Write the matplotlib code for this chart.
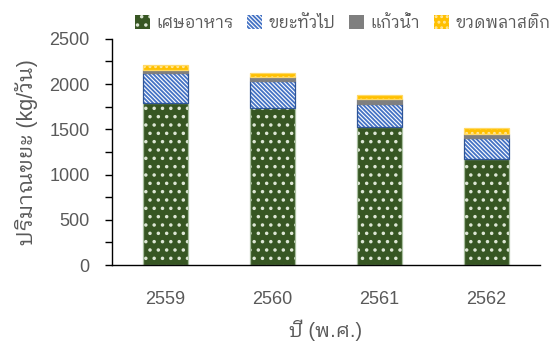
import matplotlib
matplotlib.use("Agg")
import matplotlib.pyplot as plt
from matplotlib.patches import Patch
import numpy as np

plt.rcParams['font.family'] = ['Liberation Sans', 'IBM Plex Sans Thai Looped', 'DejaVu Sans']

years = ['2559', '2560', '2561', '2562']
food = [1790, 1735, 1525, 1175]
general = [330, 300, 260, 225]
glass = [35, 40, 45, 45]
plastic = [55, 50, 55, 65]

names = ['เศษอาหาร', 'ขยะทั่วไป', 'แก้วน้ำ', 'ขวดพลาสติก']
faces = ['#375623', 'white', '#7F7F7F', '#FFC000']
hatch_cols = ['#DDE6D5', '#4472C4', '#7F7F7F', '#FFE699']
hatches = ['..', '\\' * 8, '', '...']
outlines = ['#A9BFA0', '#2F5597', '#7F7F7F', '#FFD966']

plt.rcParams['hatch.linewidth'] = 1.3

fig = plt.figure(figsize=(5.51, 3.47), dpi=100)
ax = fig.add_axes([0.203, 0.236, 0.777, 0.652])

x = np.arange(len(years))
w = 0.42
bottom = np.zeros(len(years))
for vals, fc, hc, h, oc in zip([food, general, glass, plastic], faces, hatch_cols, hatches, outlines):
    ax.bar(x, vals, w, bottom=bottom, color=fc, edgecolor=hc, hatch=h, linewidth=0)
    ax.bar(x, vals, w, bottom=bottom, fill=False, edgecolor=oc, linewidth=0.9)
    bottom += vals

ax.set_xlim(-0.5, 3.5)
ax.set_ylim(0, 2500)
ax.set_yticks(range(0, 2501, 500))
ax.set_yticks(range(250, 2500, 500), minor=True)
ax.set_xticks(x)
ax.set_xticklabels(years)
ax.tick_params(axis='x', length=0, pad=19, labelsize=13, colors='#595959')
ax.tick_params(axis='y', which='both', length=5, width=1, labelsize=13,
               labelcolor='#595959', color='black', pad=11)
for s in ['top', 'right']:
    ax.spines[s].set_visible(False)
for s in ['left', 'bottom']:
    ax.spines[s].set_color('black')
    ax.spines[s].set_linewidth(1)

ax.set_xlabel('ปี (พ.ศ.)', fontsize=14.5, color='#595959', labelpad=8)
ax.set_ylabel('ปริมาณขยะ (kg/วัน)', fontsize=15.5, color='#595959', labelpad=8)

handles = [Patch(facecolor=fc, edgecolor=hc, hatch=h, linewidth=0)
           for fc, hc, h in zip(faces, hatch_cols, hatches)]
ax.legend(handles, names, ncol=4, frameon=False, loc='lower left',
          bbox_to_anchor=(0.03, 0.99), fontsize=12, labelcolor='#595959',
          handlelength=0.9, handleheight=0.9, handletextpad=0.4, columnspacing=0.8,
          borderaxespad=0.2)

fig.savefig('out.png', dpi=100)
